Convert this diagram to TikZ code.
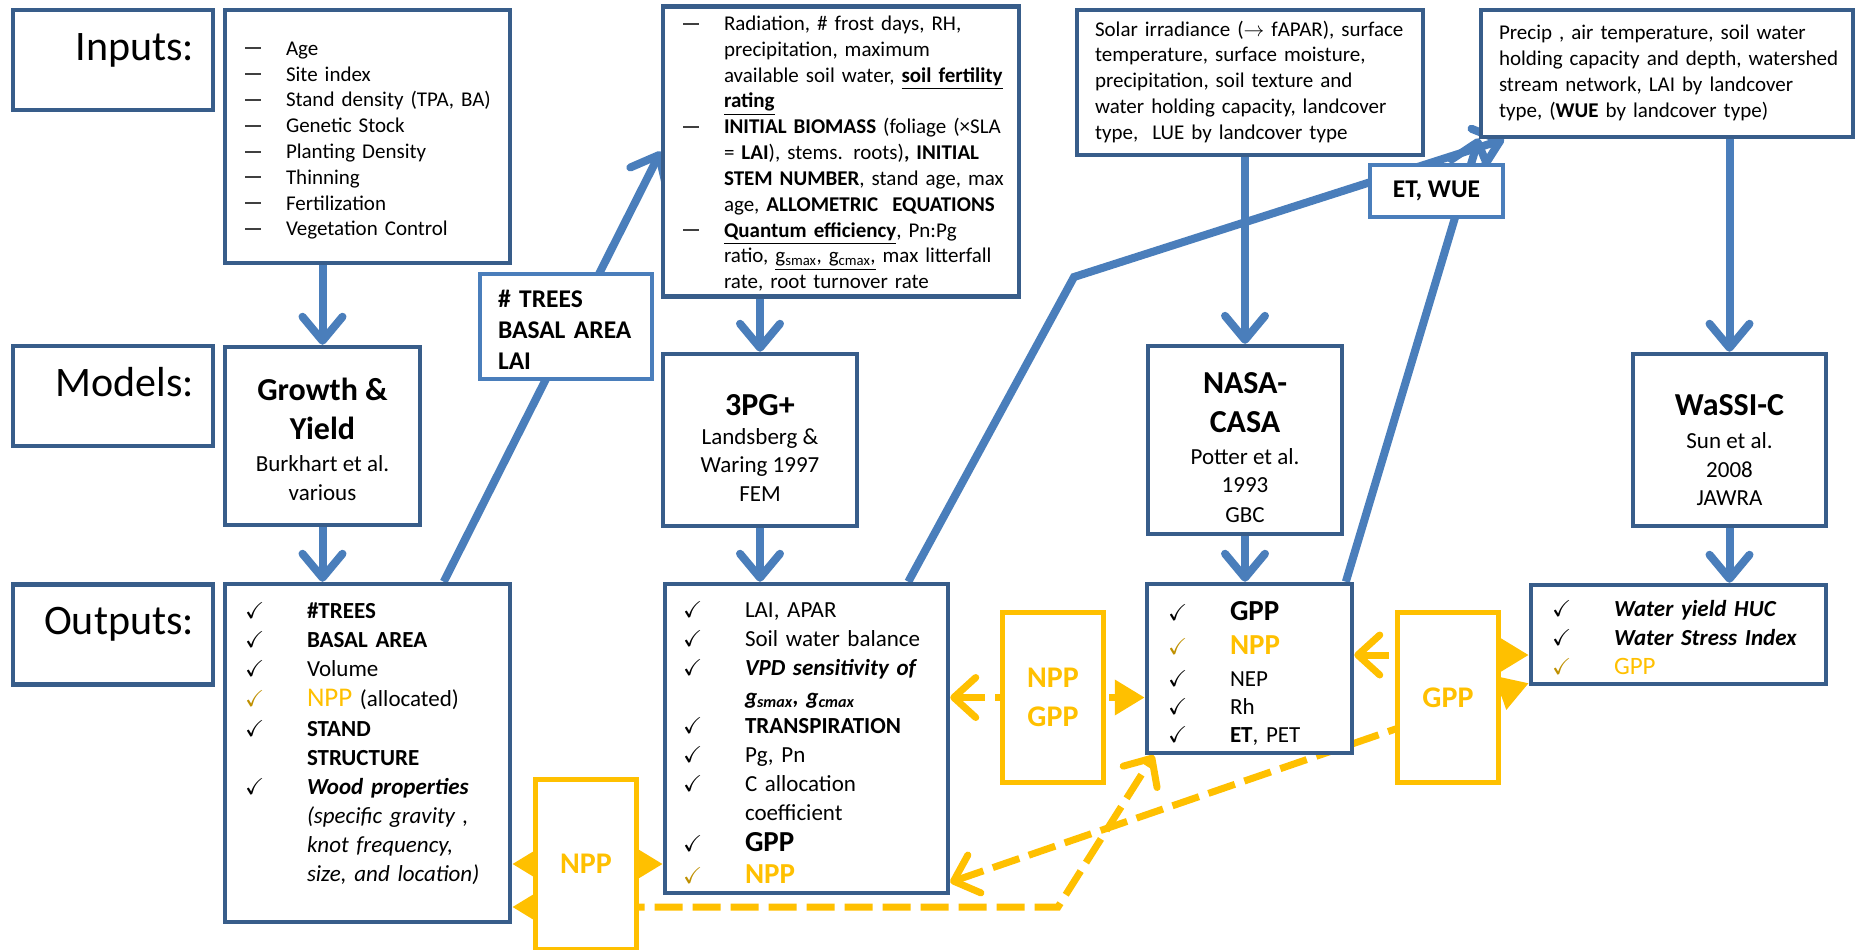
\documentclass[tikz,border=0pt]{standalone}
\usepackage{fontspec}
\usepackage{amssymb}
\setmainfont{Carlito}
\usetikzlibrary{arrows.meta,backgrounds}

\definecolor{boxblue}{HTML}{385D8A}
\definecolor{lineblue}{HTML}{4A7EBB}
\definecolor{nppyellow}{HTML}{FFC000}
\definecolor{chkgold}{HTML}{BF9000}

\newcommand{\dsh}{\textcolor{black!75}{\rule[6pt]{16pt}{2pt}}}
\newcommand{\chk}{$\checkmark$}
\newcommand{\ychk}{\textcolor{chkgold}{$\checkmark$}}
\newcommand{\mtitle}{\fontsize{32}{39}\selectfont\bfseries}
\newcommand{\mref}{\fontsize{23}{29}\selectfont\mdseries}
\newcommand{\bigout}{\fontsize{29}{29}\selectfont\bfseries}

\tikzset{
  lblbox/.style={draw=boxblue, line width=4.5pt, fill=white, inner sep=0pt,
    minimum width=200pt, minimum height=100pt, text width=162pt, align=right,
    text height=27pt, text depth=27pt, font=\fontsize{42}{50}\selectfont},
  inbox/.style={draw=boxblue, line width=4.5pt, fill=white, inner sep=0pt,
    align=left, font=\fontsize{21}{25.8}\selectfont},
  modbox/.style={draw=boxblue, line width=4.5pt, fill=white, inner sep=0pt,
    align=center, font=\mtitle},
  outbox/.style={draw=boxblue, line width=4.5pt, fill=white, inner sep=0pt,
    align=left, font=\fontsize{23}{29}\selectfont},
  tagbox/.style={draw=lineblue, line width=3.5pt, fill=white, inner sep=0pt,
    font=\fontsize{25.5}{31}\selectfont\bfseries},
  nppbox/.style={draw=nppyellow, line width=5pt, fill=white, inner sep=0pt,
    minimum width=101pt, minimum height=170pt, align=center, text=nppyellow,
    font=\fontsize{30}{39}\selectfont\bfseries},
  flow/.style={draw=lineblue, line width=8pt,
    -{Straight Barb[length=24pt,width=40pt,round]}},
  share/.style={draw=nppyellow, line width=7pt, dash pattern=on 28pt off 10pt},
  Ychev/.tip={Straight Barb[length=22pt,width=40pt,round]},
  Ytri/.tip={Triangle[length=30pt,width=34pt]}
}

\begin{document}
\begin{tikzpicture}[x=1pt,y=-1pt]
  \useasboundingbox (0,0) rectangle (1858,950);

  % row labels
  \node[lblbox] (lblIn)  at (113,60)    {Inputs:};
  \node[lblbox] (lblMod) at (113,396)   {Models:};
  \node[lblbox] (lblOut) at (113,634.5) {Outputs:};

  % inputs
  \node[inbox, minimum width=285pt, minimum height=253pt, text width=245pt] (gyIn) at (367.5,136.5) {%
    \begin{tabular}{@{}p{41pt}@{}l@{}}
      \rule{0pt}{26pt}\dsh & Age\\
      \dsh & Site index\\
      \dsh & Stand density (TPA, BA)\\
      \dsh & Genetic Stock\\
      \dsh & Planting Density\\
      \dsh & Thinning\\
      \dsh & Fertilization\\
      \dsh & Vegetation Control
    \end{tabular}};
  \node[inbox, minimum width=356pt, minimum height=283pt, text width=316pt] (pgIn) at (841,151.5) {%
    \begin{tabular}{@{}p{41pt}@{}l@{}}
      \rule{0pt}{24pt}\dsh & Radiation, \# frost days, RH,\\
           & precipitation, maximum\\
           & available soil water, \textbf{\underline{soil fertility}}\\
           & \textbf{\underline{rating}}\\
      \dsh & \textbf{INITIAL BIOMASS} (foliage (×SLA\\
           & = \textbf{LAI}), stems. roots)\textbf{, INITIAL}\\
           & \textbf{STEM NUMBER}, stand age, max\\
           & age, \textbf{ALLOMETRIC\ \ EQUATIONS}\\
      \dsh & \textbf{\underline{Quantum efficiency}}, Pn:Pg\\
           & ratio, \underline{g\textsubscript{smax}, g\textsubscript{cmax},} max litterfall\\
           & rate, root turnover rate
    \end{tabular}};
  \node[inbox, minimum width=346pt, minimum height=145pt, text width=310pt] (nasaIn) at (1250,82.5) {%
    \begin{tabular}{@{}l@{}}
      Solar irradiance ($\rightarrow$ fAPAR), surface\\
      temperature, surface moisture,\\
      precipitation, soil texture and\\
      water holding capacity, landcover\\
      type,\ \ LUE by landcover type
    \end{tabular}};
  \node[inbox, minimum width=372pt, minimum height=127pt, text width=336pt] (waIn) at (1667,73.5) {%
    \begin{tabular}{@{}l@{}}
      Precip , air temperature, soil water\\
      holding capacity and depth, watershed\\
      stream network, LAI by landcover\\
      type, (\textbf{WUE} by landcover type)
    \end{tabular}};

  % models
  \node[modbox, minimum width=195pt, minimum height=178pt] (gyMod) at (322.5,436) {%
    \begin{tabular}{@{}c@{}}\rule{0pt}{40pt}Growth \&\\ Yield\\[-6.9pt] \mref Burkhart et al.\\[-10pt] \mref various\end{tabular}};
  \node[modbox, minimum width=194pt, minimum height=172pt] (pgMod) at (760,440) {%
    \begin{tabular}{@{}c@{}}\rule{0pt}{48pt}3PG+\\[-9.9pt] \mref Landsberg \&\\[-11pt] \mref Waring 1997\\[-10pt] \mref FEM\end{tabular}};
  \node[modbox, minimum width=194pt, minimum height=172pt] (nasaMod) at (1245,440) {%
    \begin{tabular}{@{}c@{}}\rule{0pt}{47pt}NASA-\\ CASA\\[-6.9pt] \mref Potter et al.\\[-11pt] \mref 1993\\[-9pt] \mref GBC\end{tabular}};
  \node[modbox, minimum width=193pt, minimum height=172pt] (waMod) at (1729.5,440) {%
    \begin{tabular}{@{}c@{}}\rule{0pt}{52pt}WaSSI-C\\[-5.9pt] \mref Sun et al.\\[-10pt] \mref 2008\\[-11pt] \mref JAWRA\end{tabular}};

  % outputs
  \node[outbox, minimum width=285pt, minimum height=338pt, text width=245pt] (gyOut) at (367.5,753) {%
    \begin{tabular}{@{}p{62pt}@{}l@{}}
      \rule{0pt}{32pt}\chk  & \textbf{\#TREES}\\
      \chk  & \textbf{BASAL AREA}\\
      \chk  & Volume\\[1pt]
      \ychk & {\fontsize{27}{29}\selectfont\color{nppyellow}NPP} (allocated)\\[1pt]
      \chk  & \textbf{STAND}\\
            & \textbf{STRUCTURE}\\
      \chk  & \textbf{\textit{Wood properties}}\\
            & \textit{(specific gravity ,}\\
            & \textit{knot frequency,}\\
            & \textit{size, and location)}\\
            &
    \end{tabular}};
  \node[outbox, minimum width=283pt, minimum height=309pt, text width=247pt] (pgOut) at (806.5,738.5) {%
    \begin{tabular}{@{}p{62pt}@{}l@{}}
      \rule{0pt}{32pt}\chk  & LAI, APAR\\
      \chk  & Soil water balance\\
      \chk  & \textbf{\textit{VPD sensitivity of}}\\
            & \textbf{\textit{g\textsubscript{smax}, g\textsubscript{cmax}}}\\
      \chk  & \textbf{TRANSPIRATION}\\
      \chk  & Pg, Pn\\
      \chk  & C allocation\\
            & coefficient\\[2pt]
      \chk  & {\bigout GPP}\\[3pt]
      \ychk & {\bigout\color{nppyellow}NPP}
    \end{tabular}};
  \node[outbox, minimum width=205pt, minimum height=169pt, text width=163pt] (nasaOut) at (1249.5,668.5) {%
    \begin{tabular}{@{}p{62pt}@{}l@{}}
      \rule{0pt}{34pt}\chk  & {\bigout GPP}\\[5pt]
      \ychk & {\bigout\color{nppyellow}NPP}\\[3pt]
      \chk  & NEP\\[-1pt]
      \chk  & Rh\\[-1pt]
      \chk  & \textbf{ET}, PET
    \end{tabular}};
  \node[outbox, minimum width=295pt, minimum height=99pt, text width=253pt] (waOut) at (1678.5,634.5) {%
    \begin{tabular}{@{}p{62pt}@{}l@{}}
      \rule{0pt}{30pt}\chk  & \textbf{\textit{Water yield HUC}}\\
      \chk  & \textbf{\textit{Water Stress Index}}\\
      \ychk & {\fontsize{25}{29}\selectfont\color{nppyellow}GPP}
    \end{tabular}};

  % labels on the feedback lines
  \node[tagbox, minimum width=172pt, minimum height=101pt, text width=136pt, align=left] (treeTag) at (566,326.5) {%
    \begin{tabular}{@{}l@{}}\rule{0pt}{34pt}\# TREES\\ BASAL AREA\\ LAI\end{tabular}};
  \node[tagbox, minimum width=133pt, minimum height=52pt, align=center] (etTag) at (1436.5,191) {ET, WUE};
  \coordinate (kink) at (1074,277);

  % shared carbon boxes
  \node[nppbox] (nppA) at (586,864)    {NPP};
  \node[nppbox] (nppB) at (1053,697.5) {NPP\\ GPP};
  \node[nppbox] (gppC) at (1448,697.5) {GPP};
  \coordinate (bend) at (1058,907);
  \coordinate (gppRun) at (1448,655);

  \begin{scope}[on background layer]
    \fill[white] (0,0) rectangle (1858,950);
    % inputs -> models -> outputs
    \draw[flow] (gyMod.north |- gyIn.south) -- (gyMod.north);
    \draw[flow] (gyMod.south) -- (gyMod.south |- gyOut.north);
    \draw[flow] (pgMod.north |- pgIn.south) -- (pgMod.north);
    \draw[flow] (pgMod.south) -- (pgMod.south |- pgOut.north);
    \draw[flow] (nasaMod.north |- nasaIn.south) -- (nasaMod.north);
    \draw[flow] (nasaMod.south) -- (nasaMod.south |- nasaOut.north);
    \draw[flow] (waMod.north |- waIn.south) -- (waMod.north);
    \draw[flow] (waMod.south) -- (waMod.south |- waOut.north);
    % outputs fed back as inputs
    \draw[flow] (gyOut.66.8) -- (pgIn.west);
    \draw[flow] (pgOut.57.5) -- (kink) -- (waIn.202.7);
    \draw[flow] (nasaOut.42.7) -- (waIn.199.7);
    % NPP / GPP exchange
    \draw[share, Ytri-Ytri] (gyOut.east |- nppA) -- (pgOut.west |- nppA);
    \draw[share, Ytri-Ychev] (gyOut.east |- bend) -- (bend) -- ([xshift=9pt]nasaOut.south west);
    \draw[share, Ychev-Ytri] (pgOut.east |- nppB) -- (nasaOut.west |- nppB);
    \draw[share, Ychev-Ytri] (nasaOut.east |- gppRun) -- (waOut.west |- gppRun);
    \draw[share, Ychev-Ytri] (pgOut.315.6) -- (waOut.198.2);
  \end{scope}
\end{tikzpicture}
\end{document}
